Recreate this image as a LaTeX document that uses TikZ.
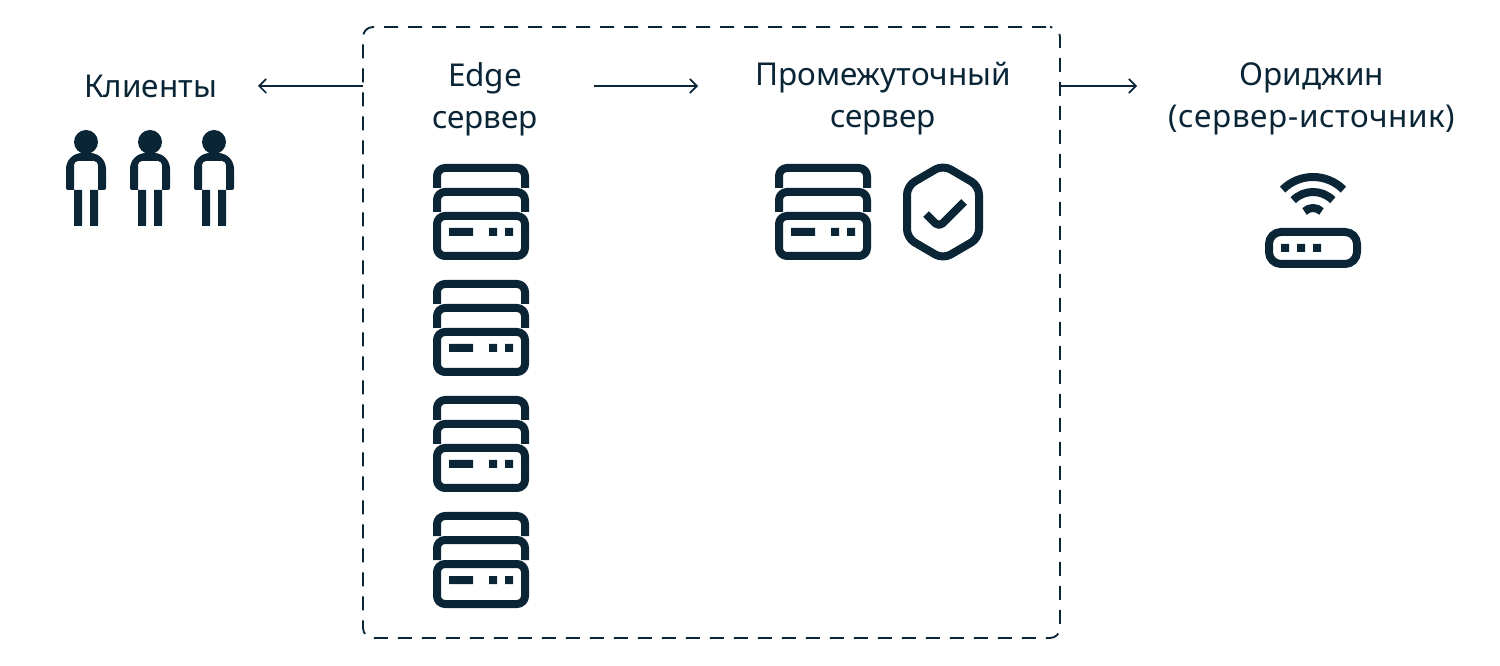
\documentclass[tikz,border=0pt]{standalone}
\usepackage{fontspec}
\setmainfont{Noto Sans}
\usetikzlibrary{arrows.meta,calc}
\definecolor{ink}{HTML}{0A2636}
\newcommand{\serverpic}[2]{%
  \begin{scope}[shift={(#1,#2)}]
    \draw[iconline,rounded corners=6pt] (4,24) -- (4,4) -- (92,4) -- (92,24);
    \draw[iconline,rounded corners=6pt] (4,48) -- (4,28) -- (92,28) -- (92,48);
    \draw[iconline,rounded corners=6pt] (4,52) rectangle (92,92);
    \fill[ink] (16,64) rectangle (40,72) (56,64) rectangle (64,72) (72,64) rectangle (80,72);
  \end{scope}}
\newcommand{\personpic}[1]{%
  \begin{scope}[shift={(#1,0)}]
    \fill[ink] (86,142) circle[radius=12];
    \fill[ink] (74,190) -- (68,190) arc[start angle=90,end angle=180,radius=2] -- (66,169) arc[start angle=180,end angle=270,radius=16] -- (90,153) arc[start angle=270,end angle=360,radius=16] -- (106,188) arc[start angle=0,end angle=90,radius=2] -- (98,190) -- (98,165) arc[start angle=0,end angle=-90,radius=4] -- (78,161) arc[start angle=-90,end angle=-180,radius=4] -- cycle;
    \fill[ink] (74,190) rectangle (82,226) (90,190) rectangle (98,226);
  \end{scope}}
\tikzset{
  iconline/.style={draw=ink,line width=6pt,line cap=butt,line join=round},
  label/.style={font=\fontsize{23.6}{31.5}\selectfont,text=ink,align=center,inner sep=0pt,outer sep=0pt},
  conn/.style={draw=ink,line width=1.3pt,-{Straight Barb[length=5.25pt,width=10.5pt,line width=1.3pt]}},
  framebox/.style={draw=ink,line width=1.4pt,rounded corners=7.5pt,dash pattern=on 10.5pt off 7.5pt,dash phase=15pt,inner sep=0pt,outer sep=0pt}
}
\begin{document}
\begin{tikzpicture}[x=0.75pt,y=-0.75pt]
\useasboundingbox (0,0) rectangle (1500,666);
\node[framebox,minimum width=522.75pt,minimum height=458.25pt] (group) at (711.5,332.5) {};
\node[label,minimum width=161.25pt] (clients) at (150.5,86) {Клиенты};
\node[label,minimum width=163.5pt] (edge) at (485,99) {Edge\\сервер};
\node[label,minimum width=277.5pt] (mid) at (883,99) {Промежуточный\\сервер};
\node[label,minimum width=262.5pt] (origin) at (1312,99) {Ориджин\\{\addfontfeature{LetterSpace=2}(сервер-источник)}};
\coordinate (groupW) at (group.west |- clients.east);
\coordinate (groupE) at (group.east |- clients.east);
\draw[conn] (groupW) -- (clients.east);
\draw[conn] (edge.east |- groupW) -- (mid.west |- groupW);
\draw[conn] (groupE) -- (origin.west |- groupE);
\personpic{0}\personpic{64}\personpic{128}
\serverpic{433}{164}\serverpic{433}{280}\serverpic{433}{396}\serverpic{433}{512}
\serverpic{775}{164}
\draw[iconline,rounded corners=6.5pt] (943,165) -- (979,186) -- (979,238) -- (943,259) -- (907,238) -- (907,186) -- cycle;
\draw[iconline,rounded corners=3.75pt] (926,214) -- (939,227) -- (964,202);
\draw[iconline,rounded corners=9pt] (1269,232) rectangle (1357,264);
\fill[ink] (1281,244) rectangle (1289,252) (1297,244) rectangle (1305,252) (1313,244) rectangle (1321,252);
\draw[iconline] ($(1313,220)+(-30.4,-30.4)$) arc[start angle=225,end angle=315,radius=43];
\draw[iconline] ($(1313,220)+(-19.8,-19.8)$) arc[start angle=225,end angle=315,radius=28];
\draw[iconline] ($(1313,220)+(-8.5,-8.5)$) arc[start angle=225,end angle=315,radius=12];
\end{tikzpicture}
\end{document}
